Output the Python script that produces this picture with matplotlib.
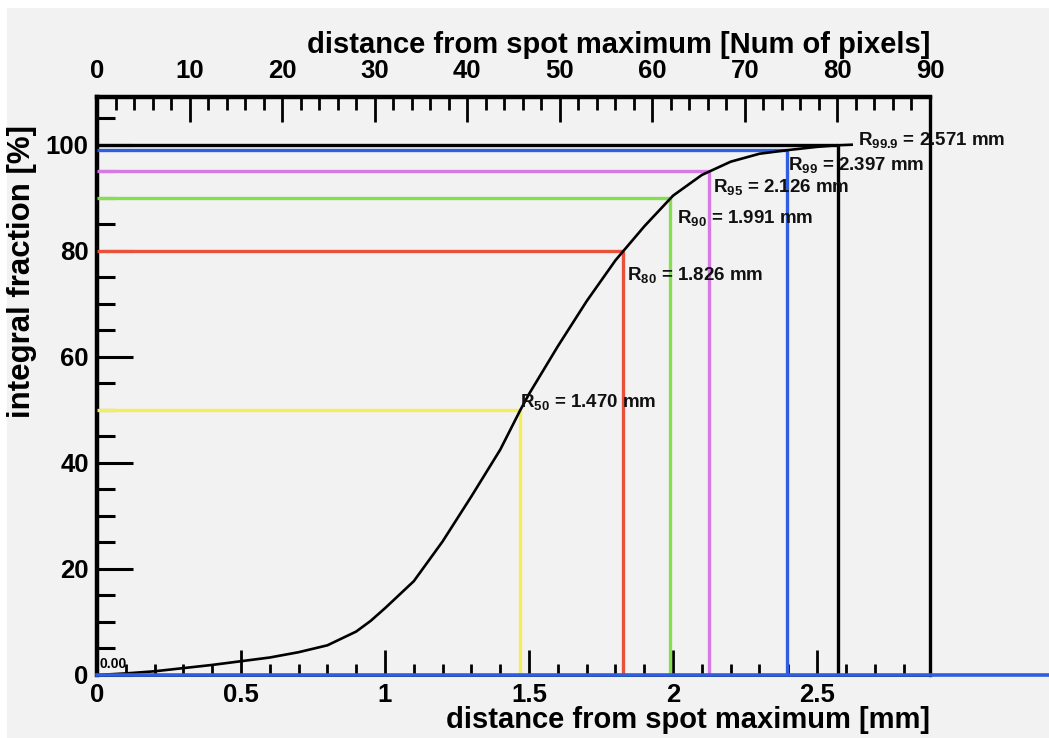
import matplotlib
matplotlib.use("Agg")
import matplotlib.pyplot as plt
from matplotlib.patches import Rectangle
from matplotlib.ticker import MultipleLocator

plt.rcParams['font.family'] = ['Liberation Sans', 'DejaVu Sans']
plt.rcParams['font.weight'] = 'bold'
plt.rcParams['mathtext.fontset'] = 'custom'
plt.rcParams['mathtext.rm'] = 'Liberation Sans:bold'
plt.rcParams['mathtext.it'] = 'Liberation Sans:bold'
plt.rcParams['mathtext.bf'] = 'Liberation Sans:bold'

# ---- data ----
distance_mm = [0, 0.1, 0.2, 0.3, 0.4, 0.5, 0.6, 0.7, 0.8, 0.9, 0.95, 1.0, 1.1, 1.2, 1.3,
               1.4, 1.47, 1.5, 1.6, 1.7, 1.8, 1.9, 2.0, 2.1, 2.2, 2.3, 2.4, 2.5,
               2.571, 2.62]
integral_pct = [0, 0.3, 0.7, 1.3, 1.9, 2.6, 3.3, 4.3, 5.6, 8.2, 10.2, 12.6, 17.7, 25.2,
                33.7, 42.5, 50.0, 53.0, 62.0, 70.5, 78.2, 84.6, 90.4, 94.3, 96.8,
                98.3, 99.0, 99.6, 99.9, 100.0]
levels = [50, 80, 90, 95, 99, 99.9]
radii_mm = [1.470, 1.826, 1.991, 2.126, 2.397, 2.571]
level_names = ['50', '80', '90', '95', '99', '99.9']
level_colors = ['#f4ee58', '#e8513a', '#84e04e', '#d47ae2', '#2f5fe0', '#000000']
pixel_size_mm = 2.892 / 90.0
x_max_mm = 2.892
y_max = 109

# label offsets (style)
label_dx = [0.0, 0.014, 0.023, 0.013, 0.003, 0.07]
label_dy = [0.6, -5.5, -4.7, -4.0, -3.7, 0.1]

W, H = 1049, 738
fig = plt.figure(figsize=(W / 100, H / 100), dpi=100, facecolor='white')
fig.patches.append(Rectangle((7 / W, 0), 1 - 7 / W, 1 - 8 / H, transform=fig.transFigure,
                             facecolor='#f2f2f2', edgecolor='none', zorder=-10))

ax = fig.add_axes([97 / W, (H - 675) / H, (930 - 97) / W, (675 - 97) / H])
ax.set_facecolor('#f2f2f2')
ax.set_xlim(0, x_max_mm)
ax.set_ylim(0, y_max)

# level lines
for lev, r, c in zip(levels, radii_mm, level_colors):
    ax.plot([0, r], [lev, lev], color=c, lw=2.4, solid_capstyle='butt', zorder=3)
    ax.plot([r, r], [0, lev], color=c, lw=2.4, solid_capstyle='butt', zorder=3)

# curve
ax.plot(distance_mm, integral_pct, color='black', lw=1.9, zorder=5)

# baseline extending past the frame
ax.plot([0, 3.5], [0, 0], color='#2f5fe0', lw=2.6, clip_on=False, zorder=6)

# annotations
for lev, r, name, dx, dy in zip(levels, radii_mm, level_names, label_dx, label_dy):
    ax.text(r + dx, lev + dy, r'R$_{%s}$ = %.3f mm' % (name, r), fontsize=13.5,
            fontweight='bold', ha='left', va='baseline', color='#111111', zorder=7)
ax.text(0.01, 0.8, '0.00', fontsize=10, fontweight='bold', ha='left', va='bottom', zorder=7)

# spines
for s in ['left', 'top']:
    ax.spines[s].set_linewidth(3.2)
ax.spines['right'].set_linewidth(2.4)
ax.spines['bottom'].set_linewidth(2.0)
for s in ax.spines.values():
    s.set_color('black')

# bottom axis ticks
ax.xaxis.set_minor_locator(MultipleLocator(0.1))
ax.set_xticks([0, 0.5, 1, 1.5, 2, 2.5])
ax.set_xticklabels(['0', '0.5', '1', '1.5', '2', '2.5'])
ax.yaxis.set_minor_locator(MultipleLocator(5))
ax.set_yticks([0, 20, 40, 60, 80, 100])
ax.tick_params(axis='x', which='major', direction='in', length=18, width=2, labelsize=18.5, pad=6,
               top=False, bottom=True)
ax.tick_params(axis='x', which='minor', direction='in', length=8, width=2, top=False, bottom=True)
ax.tick_params(axis='y', which='major', direction='in', length=26, width=2.2, labelsize=18.5, pad=6,
               right=False)
ax.tick_params(axis='y', which='minor', direction='in', length=13, width=2.2, right=False)
for lbl in ax.get_xticklabels() + ax.get_yticklabels():
    lbl.set_fontweight('bold')

# top axis in pixels
ax2 = ax.twiny()
ax2.set_xlim(0, x_max_mm / pixel_size_mm)
ax2.xaxis.set_major_locator(MultipleLocator(10))
ax2.xaxis.set_minor_locator(MultipleLocator(2))
ax2.tick_params(axis='x', which='major', direction='in', length=18, width=2, labelsize=18.5, pad=10)
ax2.tick_params(axis='x', which='minor', direction='in', length=9, width=2)
for lbl in ax2.get_xticklabels():
    lbl.set_fontweight('bold')
for s in ax2.spines.values():
    s.set_visible(False)

# axis titles
fig.text(930 / W, 1 - 720 / H, 'distance from spot maximum [mm]', fontsize=21, fontweight='bold',
         ha='right', va='center')
fig.text(930 / W, 1 - 45 / H, 'distance from spot maximum [Num of pixels]', fontsize=21,
         fontweight='bold', ha='right', va='center')
fig.text(22 / W, 1 - 125 / H, 'integral fraction [%]', fontsize=22.5, fontweight='bold',
         rotation=90, ha='center', va='top')

fig.savefig('out.png', dpi=100, facecolor=fig.get_facecolor())
